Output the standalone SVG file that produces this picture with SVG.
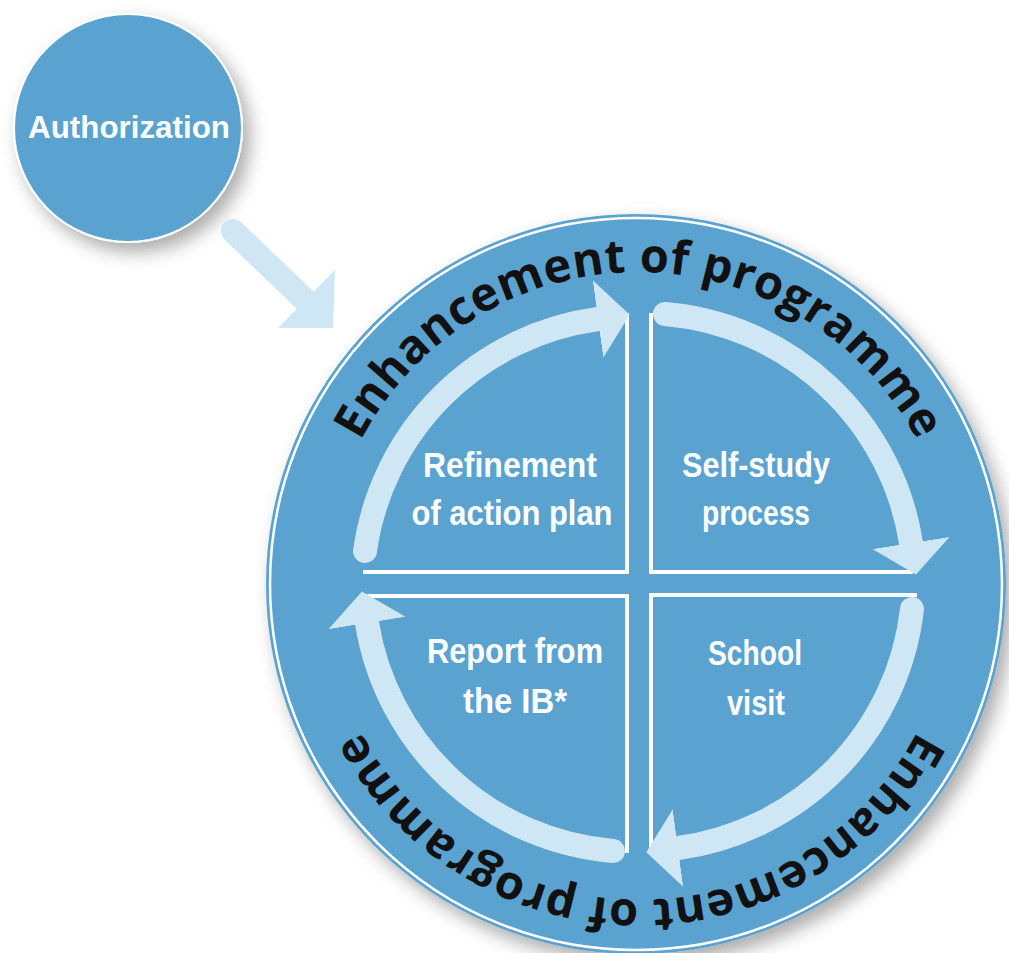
<svg xmlns="http://www.w3.org/2000/svg" width="1009" height="953" viewBox="0 0 1009 953">
<style>
.disk{fill:#5aa3d1;}
.ring{fill:none;stroke:#ffffff;stroke-width:2.5;}
.quad{fill:none;stroke:#ffffff;stroke-width:4;stroke-linejoin:miter;}
.arc{fill:none;stroke:#cfe7f4;stroke-width:24;stroke-linecap:round;}
.lbl{font-family:"Liberation Sans",Arial,sans-serif;font-weight:bold;font-size:35px;fill:#ffffff;text-anchor:middle;}
.curve{font-family:"Open Sans","Liberation Sans",sans-serif;font-weight:700;font-size:47px;fill:#111111;letter-spacing:0.5px;}
</style>
<defs>
<filter id="shadow" x="-20%" y="-20%" width="150%" height="150%">
<feDropShadow dx="7" dy="9" stdDeviation="9" flood-color="#000000" flood-opacity="0.33"/>
</filter>
<marker id="head" markerUnits="userSpaceOnUse" viewBox="0 -40 34 80" markerWidth="34" markerHeight="80" refX="0" refY="0" orient="auto">
<path d="M0,-39 L32,0 L0,39 Z" fill="#cfe7f4"/>
</marker>
<path id="topPath" d="M325,586 A314,314 0 0 1 953,586"/>
<path id="botPath" d="M953,586 A314,314 0 0 1 325,586"/>
</defs>
<rect x="0" y="0" width="1009" height="953" fill="#ffffff"/>

<g id="authorization">
<circle cx="128" cy="128" r="114" class="disk" stroke="#ffffff" stroke-width="2" filter="url(#shadow)"/>
<text x="129" y="138" class="lbl" style="font-size:32px" textLength="202" lengthAdjust="spacingAndGlyphs">Authorization</text>
</g>

<g id="cycle">
<circle cx="636" cy="584" r="370" class="disk" filter="url(#shadow)"/>
<circle cx="636" cy="584" r="366" class="ring"/>
<text class="curve"><textPath href="#topPath" startOffset="50%" text-anchor="middle">Enhancement of programme</textPath></text>
<text class="curve"><textPath href="#botPath" startOffset="50%" text-anchor="middle">Enhancement of programme</textPath></text>
</g>

<g id="refinement">
<path class="quad" d="M627,313 V572 H363"/>
<text class="lbl" x="510" y="477" textLength="174" lengthAdjust="spacingAndGlyphs">Refinement</text>
<text class="lbl" x="512" y="525" textLength="201" lengthAdjust="spacingAndGlyphs">of action plan</text>
</g>

<g id="selfstudy">
<path class="quad" d="M651,313 V572 H913"/>
<text class="lbl" x="756" y="477" textLength="148" lengthAdjust="spacingAndGlyphs">Self-study</text>
<text class="lbl" x="756" y="525" textLength="108" lengthAdjust="spacingAndGlyphs">process</text>
</g>

<g id="schoolvisit">
<path class="quad" d="M651,851 V595 H917"/>
<text class="lbl" x="755" y="665" textLength="94" lengthAdjust="spacingAndGlyphs">School</text>
<text class="lbl" x="756" y="715" textLength="58" lengthAdjust="spacingAndGlyphs">visit</text>
</g>

<g id="report">
<path class="quad" d="M627,853 V596 H365"/>
<text class="lbl" x="515" y="663" textLength="176" lengthAdjust="spacingAndGlyphs">Report from</text>
<text class="lbl" x="515" y="713" textLength="104" lengthAdjust="spacingAndGlyphs">the IB*</text>
</g>

<g id="connectors">
<path d="M233,231 L305,300" fill="none" stroke="#cfe7f4" stroke-width="24" stroke-linecap="round"/>
<polygon points="335,270 333,328 278,328" fill="#cfe7f4"/>
<path class="arc" d="M365,551 A272,272 0 0 1 598,319" marker-end="url(#head)"/>
<path class="arc" d="M665,314 A272,272 0 0 1 911,543" marker-end="url(#head)"/>
<path class="arc" d="M912,609 A272,272 0 0 1 678,848" marker-end="url(#head)"/>
<path class="arc" d="M613,851 A272,272 0 0 1 367,623" marker-end="url(#head)"/>
</g>
</svg>
